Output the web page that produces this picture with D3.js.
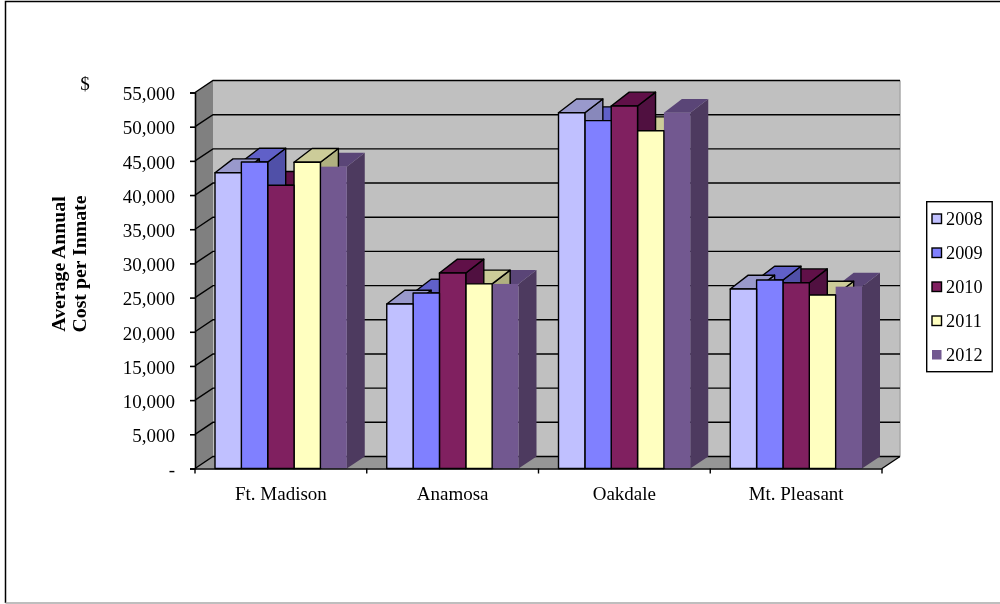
<!DOCTYPE html>
<html><head><meta charset="utf-8">
<script src="https://cdn.jsdelivr.net/npm/d3@7"></script>
<style>html,body{margin:0;padding:0;background:#fff}svg{display:block;filter:blur(0.35px)}text{font-family:"Liberation Serif",serif;fill:#000}</style>
</head><body><svg id="c" width="1000" height="604"></svg>
<script>
const categories = ["Ft. Madison","Anamosa","Oakdale","Mt. Pleasant"];
const years = ["2008","2009","2010","2011","2012"];
const v2008 = [43270,24060,52040,26260];
const v2009 = [44830,25670,50880,27570];
const v2010 = [41430,28600,53030,27180];
const v2011 = [44800,27000,49410,25380];
const v2012 = [44150,27000,52040,26600];
const seriesValues = [v2008,v2009,v2010,v2011,v2012];
const tickValues = d3.range(0,55001,5000);
const frontColors = ["#C0C0FF","#8080FF","#802060","#FFFFC0","#725890"];
const topColors = ["#9999CC","#6060C8","#601048","#CCCC99","#5A4577"];
const sideColors = ["#8888BB","#5050A8","#501040","#B0B080","#4D3A5F"];
const strokes = ["#000","#000","#000","#000","none"];

const svg = d3.select("#c");
const dx = 18, dy = -12, topDy = -13.8;
const x = d3.scaleBand().domain(categories).range([195,882]);
const inner = d3.scaleBand().domain(years).range([20,x.bandwidth()-20]);
const y = d3.scaleLinear().domain([0,55000]).range([468.5,92.5]);
const [x0,x1] = x.range(), y0 = y(0), yT = y(55000);
const poly = pts => pts.map(p=>p.join(",")).join(" ");

// picture frame: top and left dark, bottom grey
svg.append("path").attr("d","M1000,1.5H5.5V603").attr("fill","none").attr("stroke","#000").attr("stroke-width",1.5);
svg.append("path").attr("d","M5.5,603H1000").attr("fill","none").attr("stroke","#A8A8A8").attr("stroke-width",1.5);

// walls and floor
svg.append("polygon").attr("points",poly([[x0+dx,yT+dy],[x1+dx,yT+dy],[x1+dx,y0+dy],[x0+dx,y0+dy]])).attr("fill","#C0C0C0");
svg.append("polygon").attr("points",poly([[x0,yT],[x0+dx,yT+dy],[x0+dx,y0+dy],[x0,y0]])).attr("fill","#808080");
svg.append("polygon").attr("points",poly([[x0,y0],[x0+dx,y0+dy],[x1+dx,y0+dy],[x1,y0]])).attr("fill","#969696");
svg.append("line").attr("x1",x1+dx).attr("x2",x1+dx).attr("y1",yT+dy).attr("y2",y0+dy).attr("stroke","#A8A8A8").attr("stroke-width",1.5);

// gridlines
svg.append("g").selectAll("path").data(tickValues).join("path")
 .attr("d",d=>`M${x0},${y(d)}L${x0+dx},${y(d)+dy}L${x1+dx},${y(d)+dy}`)
 .attr("fill","none").attr("stroke","#000").attr("stroke-width",1.4);
svg.append("path").attr("d",`M${x1},${y0}L${x1+dx},${y0+dy}`).attr("stroke","#000").attr("stroke-width",1.4);

// bars: sides and tops right to left, then every front face on top
const barsG = svg.append("g");
const styled = (si) => barsG.append("g").attr("stroke",strokes[si]).attr("stroke-width",1.4).attr("stroke-linejoin","round");
categories.forEach((c,ci)=>{
  for(let si=years.length-1;si>=0;si--){
    const l = x(c)+inner(years[si]), w = inner.bandwidth(), t = y(seriesValues[si][ci]), g = styled(si);
    g.append("polygon").attr("points",poly([[l+w,t],[l+w+dx,t+topDy],[l+w+dx,y0+dy],[l+w,y0]])).attr("fill",sideColors[si]);
    g.append("polygon").attr("points",poly([[l,t],[l+dx,t+topDy],[l+w+dx,t+topDy],[l+w,t]])).attr("fill",topColors[si]);
  }
  for(let si=years.length-1;si>=0;si--){
    const l = x(c)+inner(years[si]), w = inner.bandwidth(), t = y(seriesValues[si][ci]), g = styled(si);
    g.append("rect").attr("x",l).attr("y",t).attr("width",w).attr("height",y0-t).attr("fill",frontColors[si]);
  }
});

// axes
const font = '"Liberation Serif",serif';
const yAxis = d3.axisLeft(y).tickValues(tickValues).tickSize(5).tickPadding(15)
  .tickFormat(d=>d===0?"-":d3.format(",")(d));
const gy = svg.append("g").attr("transform",`translate(${x0},0)`).call(yAxis);
gy.selectAll("text").attr("font-size",19).attr("dy","0.38em").style("font-family",font).attr("fill","#000");
gy.selectAll("line,path").attr("stroke","#000").attr("stroke-width",1.6);
const xAxis = d3.axisBottom(x).tickValues(categories).tickSize(0).tickPadding(18);
const gx = svg.append("g").attr("transform",`translate(0,${y0})`).call(xAxis);
gx.selectAll("text").attr("font-size",19).style("font-family",font).attr("fill","#000");
gx.select("path").attr("stroke","#000").attr("stroke-width",1.6);
svg.append("g").selectAll("line").data(d3.range(categories.length+1)).join("line")
  .attr("x1",i=>x0+i*x.bandwidth()).attr("x2",i=>x0+i*x.bandwidth()).attr("y1",y0).attr("y2",y0+5)
  .attr("stroke","#000").attr("stroke-width",1.4);

// titles
svg.append("text").attr("x",85).attr("y",90).attr("text-anchor","middle").attr("font-size",19).text("$");
const yt = svg.append("text").attr("transform","translate(65,264) rotate(-90)").attr("text-anchor","middle").attr("font-size",19.8).attr("font-weight","bold");
yt.append("tspan").attr("x",0).attr("y",0).text("Average Annual");
yt.append("tspan").attr("x",0).attr("y",21).text("Cost per Inmate");

// legend
svg.append("rect").attr("x",926.7).attr("y",201.7).attr("width",65.5).attr("height",170).attr("fill","#fff").attr("stroke","#000").attr("stroke-width",1.4);
const ly = d3.scalePoint().domain(years).range([219,355]);
const lg = svg.append("g").selectAll("g").data(years).join("g").attr("transform",d=>`translate(0,${ly(d)})`);
lg.append("rect").attr("x",932).attr("y",-5).attr("width",9.5).attr("height",9.5)
  .attr("fill",(d,i)=>frontColors[i]).attr("stroke",(d,i)=>strokes[i]).attr("stroke-width",1.4);
lg.append("text").attr("x",946).attr("y",6).attr("font-size",18.3).text(d=>d);
</script></body></html>
